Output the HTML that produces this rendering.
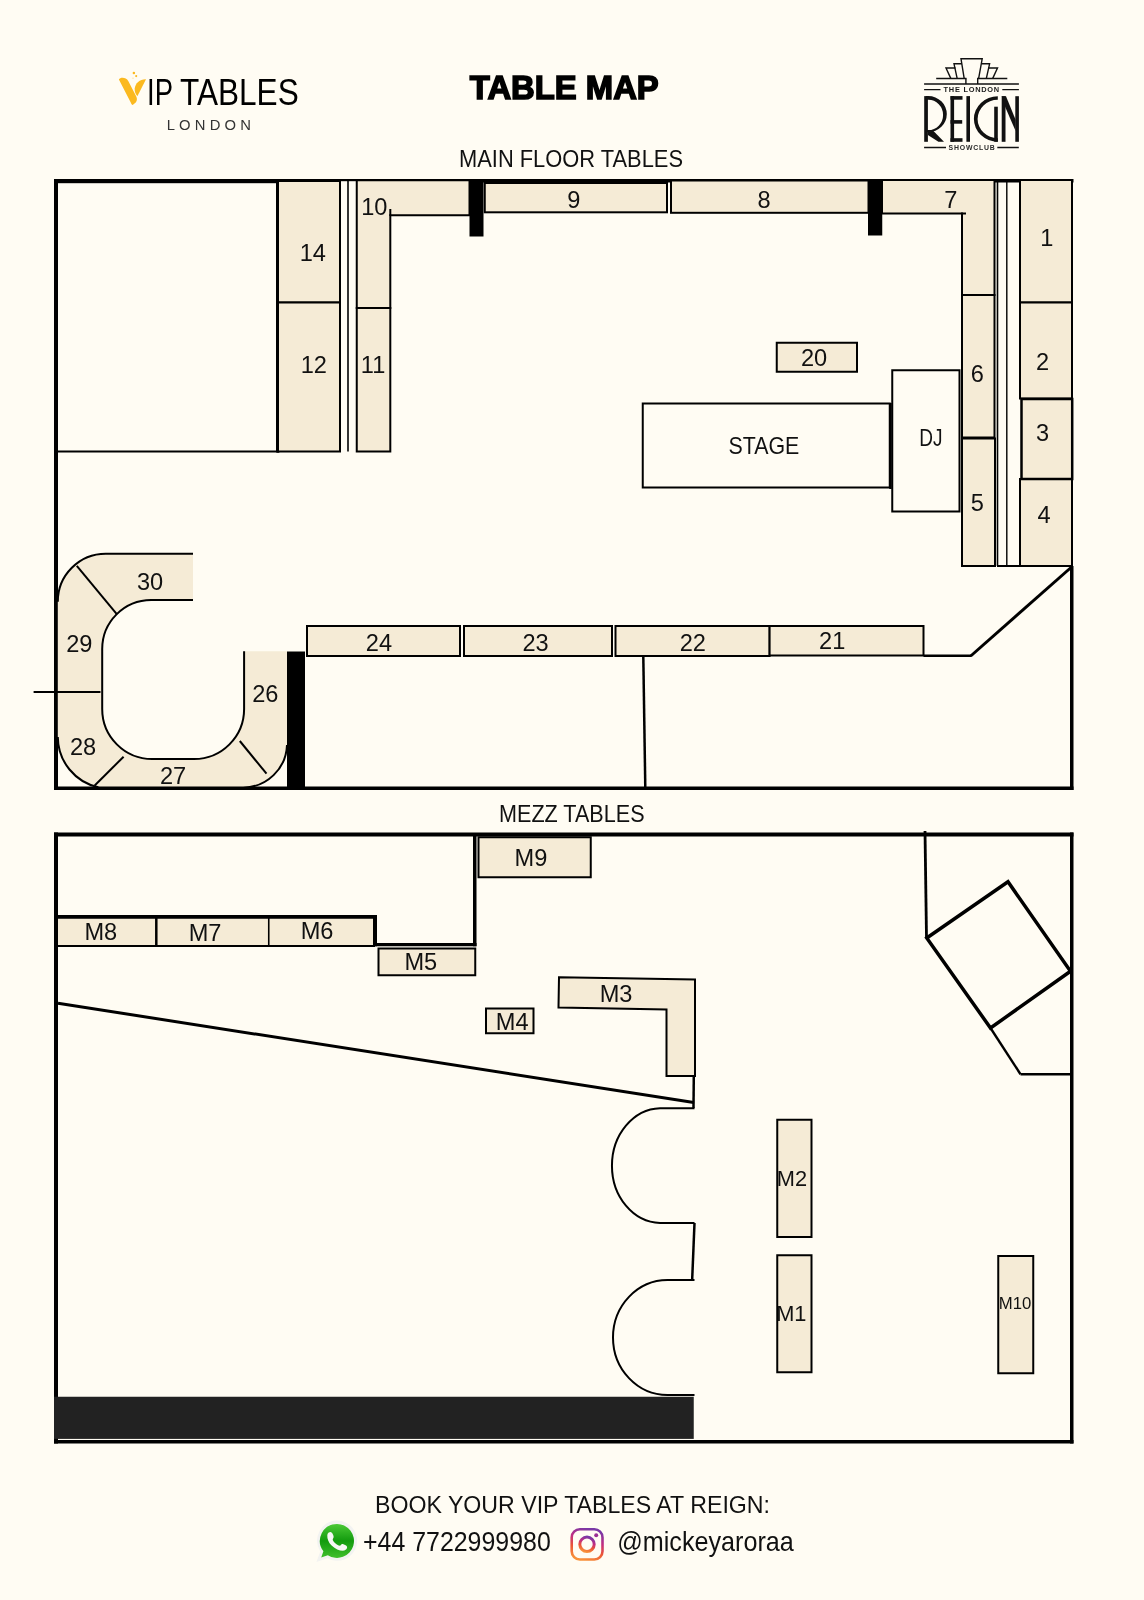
<!DOCTYPE html>
<html><head><meta charset="utf-8"><title>Table Map</title>
<style>
html,body{margin:0;padding:0;background:#FFFCF3;}
body{width:1144px;height:1600px;overflow:hidden;}
svg{display:block;font-family:"Liberation Sans",sans-serif;will-change:transform;}
</style></head><body>
<svg width="1144" height="1600" viewBox="0 0 1144 1600">
<rect x="0" y="0" width="1144" height="1600" fill="#FFFCF3"/>
<rect x="54" y="179" width="225.5" height="4.2" fill="#000"/>
<rect x="279" y="179" width="187" height="2.2" fill="#000"/>
<rect x="466" y="179" width="607.5" height="3.5" fill="#000"/>
<rect x="54" y="179" width="4" height="611" fill="#000"/>
<rect x="54" y="786.5" width="1019.5" height="3.5" fill="#000"/>
<rect x="1070" y="566" width="3.5" height="224" fill="#000"/>
<rect x="276" y="179" width="3.5" height="273.5" fill="#000"/>
<rect x="58" y="450.5" width="221" height="2.0" fill="#000"/>
<rect x="278" y="181" width="62" height="121.5" fill="#F5EBD6" stroke="#000" stroke-width="2"/>
<rect x="278" y="302.5" width="62" height="149.0" fill="#F5EBD6" stroke="#000" stroke-width="2"/>
<line x1="348" y1="181" x2="348" y2="451.5" stroke="#000" stroke-width="1.6" stroke-linecap="butt"/>
<polygon points="356.75,180.2 469.5,180.2 469.5,215.3 390.3,215.3 390.3,308 356.75,308" fill="#F5EBD6" stroke="#000" stroke-width="2" stroke-linejoin="miter"/>
<line x1="390.3" y1="209" x2="390.3" y2="216" stroke="#000" stroke-width="2" stroke-linecap="butt"/>
<rect x="356.75" y="308" width="33.55" height="143.5" fill="#F5EBD6" stroke="#000" stroke-width="2"/>
<rect x="484.75" y="183" width="182.25" height="29.3" fill="#F5EBD6" stroke="#000" stroke-width="2"/>
<rect x="671" y="180.5" width="197.5" height="32.3" fill="#F5EBD6" stroke="#000" stroke-width="2"/>
<polygon points="882,180 994.5,180 994.5,295 962,295 962,213.5 882,213.5" fill="#F5EBD6" stroke="#000" stroke-width="2" stroke-linejoin="miter"/>
<line x1="961" y1="213.5" x2="966" y2="213.5" stroke="#000" stroke-width="2" stroke-linecap="butt"/>
<rect x="469.5" y="180" width="14.0" height="56.5" fill="#000"/>
<rect x="868" y="179.5" width="14.25" height="56.0" fill="#000"/>
<rect x="962" y="295" width="32.5" height="142.5" fill="#F5EBD6" stroke="#000" stroke-width="2"/>
<rect x="962" y="438.5" width="33" height="127.5" fill="#F5EBD6" stroke="#000" stroke-width="2"/>
<line x1="997.5" y1="180" x2="997.5" y2="566" stroke="#000" stroke-width="1.6" stroke-linecap="butt"/>
<line x1="1006.8" y1="180" x2="1006.8" y2="566" stroke="#000" stroke-width="1.4" stroke-linecap="butt"/>
<line x1="997" y1="566" x2="1020" y2="566" stroke="#000" stroke-width="2" stroke-linecap="butt"/>
<rect x="1020" y="180" width="52" height="122.5" fill="#F5EBD6" stroke="#000" stroke-width="2"/>
<rect x="1020" y="302.5" width="52" height="96.0" fill="#F5EBD6" stroke="#000" stroke-width="2"/>
<rect x="1020" y="479" width="52" height="87" fill="#F5EBD6" stroke="#000" stroke-width="2"/>
<rect x="1021.5" y="399" width="50.7" height="80" fill="#F5EBD6" stroke="#000" stroke-width="2.5"/>
<line x1="1071" y1="567.5" x2="971" y2="655.75" stroke="#000" stroke-width="3" stroke-linecap="butt"/>
<line x1="971.8" y1="655.75" x2="923.5" y2="655.75" stroke="#000" stroke-width="2.5" stroke-linecap="butt"/>
<rect x="307" y="626" width="153" height="30" fill="#F5EBD6" stroke="#000" stroke-width="2"/>
<rect x="464" y="626" width="148" height="30" fill="#F5EBD6" stroke="#000" stroke-width="2"/>
<rect x="615.5" y="626" width="154.1" height="30" fill="#F5EBD6" stroke="#000" stroke-width="2"/>
<rect x="769.6" y="626" width="153.9" height="29.5" fill="#F5EBD6" stroke="#000" stroke-width="2"/>
<line x1="643.3" y1="656" x2="645.3" y2="788" stroke="#000" stroke-width="2.5" stroke-linecap="butt"/>
<rect x="642.75" y="403.5" width="247.0" height="84.0" fill="#FFFCF3" stroke="#000" stroke-width="2"/>
<rect x="892.25" y="370.25" width="67.25" height="141.25" fill="#FFFCF3" stroke="#000" stroke-width="2"/>
<line x1="890.5" y1="403" x2="890.5" y2="489" stroke="#000" stroke-width="2.5" stroke-linecap="butt"/>
<rect x="776.75" y="342.75" width="80.25" height="29.0" fill="#F5EBD6" stroke="#000" stroke-width="2"/>
<path d="M193,553.8 L105.7,553.8 A47.9,47.9 0 0 0 57.8,601.7 L57.8,737 A52,52 0 0 0 99,787.5 L243,787.5 A44,44 0 0 0 287,745 L287,651.2 L244.1,651.2 L244.1,709 A50,50 0 0 1 194.1,759 L152.2,759 A50,50 0 0 1 102.2,709 L102.2,649 A49,49 0 0 1 151.2,600 L193,600 Z" fill="#F5EBD6" stroke="none"/>
<path d="M193,553.8 L105.7,553.8 A47.9,47.9 0 0 0 57.8,601.7" fill="none" stroke="#000" stroke-width="2" />
<path d="M57.8,737 A52,52 0 0 0 99,787.5 L243,787.5 A44,44 0 0 0 287,745" fill="none" stroke="#000" stroke-width="2" />
<path d="M244.1,651.2 L244.1,709 A50,50 0 0 1 194.1,759 L152.2,759 A50,50 0 0 1 102.2,709 L102.2,649 A49,49 0 0 1 151.2,600 L193,600" fill="none" stroke="#000" stroke-width="2" />
<line x1="76.8" y1="565.9" x2="117" y2="614.3" stroke="#000" stroke-width="2" stroke-linecap="butt"/>
<line x1="33.6" y1="691.9" x2="100.5" y2="691.9" stroke="#000" stroke-width="2" stroke-linecap="butt"/>
<line x1="94.7" y1="785.5" x2="123.6" y2="756.7" stroke="#000" stroke-width="2" stroke-linecap="butt"/>
<line x1="239.8" y1="741" x2="266.5" y2="773.7" stroke="#000" stroke-width="2" stroke-linecap="butt"/>
<rect x="287" y="651.5" width="18" height="137.5" fill="#000"/>
<rect x="54" y="832.5" width="1019.5" height="4.0" fill="#000"/>
<rect x="54" y="832.5" width="4" height="611.0" fill="#000"/>
<rect x="1070" y="832.5" width="3.5" height="611.0" fill="#000"/>
<rect x="54" y="1440" width="1019.5" height="3.5" fill="#000"/>
<rect x="473" y="833" width="3.5" height="113.25" fill="#000"/>
<rect x="372.5" y="943" width="104.0" height="3.25" fill="#000"/>
<rect x="372.5" y="915.75" width="4.5" height="30.5" fill="#000"/>
<rect x="57" y="917" width="317" height="29" fill="#F5EBD6" stroke="#000" stroke-width="2"/>
<rect x="58" y="915" width="319" height="3.75" fill="#000"/>
<line x1="156.3" y1="917" x2="156.3" y2="946" stroke="#000" stroke-width="2.5" stroke-linecap="butt"/>
<line x1="268.75" y1="917" x2="268.75" y2="946" stroke="#000" stroke-width="1.6" stroke-linecap="butt"/>
<rect x="378.5" y="948.5" width="96.75" height="26.75" fill="#F5EBD6" stroke="#000" stroke-width="2"/>
<rect x="478.5" y="837.25" width="112.25" height="40.0" fill="#F5EBD6" stroke="#000" stroke-width="2"/>
<polygon points="559,977.2 695,979.5 695,1076 666.5,1076 666.5,1009.5 558.5,1007.5" fill="#F5EBD6" stroke="#000" stroke-width="2" stroke-linejoin="miter"/>
<rect x="486" y="1008.5" width="47.5" height="24.75" fill="#F5EBD6" stroke="#000" stroke-width="2"/>
<line x1="58" y1="1003.25" x2="693.75" y2="1102.5" stroke="#000" stroke-width="3" stroke-linecap="butt"/>
<line x1="693.8" y1="1076" x2="693.5" y2="1108" stroke="#000" stroke-width="2.5" stroke-linecap="butt"/>
<line x1="694.5" y1="1223" x2="692.2" y2="1279" stroke="#000" stroke-width="2.5" stroke-linecap="butt"/>
<path d="M694.5,1108.25 L660,1108.25 A49.5,57.4 0 0 0 660,1223 L694.5,1223" fill="none" stroke="#000" stroke-width="2" />
<path d="M694.5,1280 L667.5,1280 A54.5,57.5 0 0 0 667.5,1395 L694.5,1395" fill="none" stroke="#000" stroke-width="2" />
<rect x="54" y="1396.75" width="639.75" height="42.15" fill="#222"/>
<rect x="777.25" y="1119.75" width="34.25" height="117.25" fill="#F5EBD6" stroke="#000" stroke-width="2"/>
<rect x="777.25" y="1255.25" width="34.25" height="117.0" fill="#F5EBD6" stroke="#000" stroke-width="2"/>
<rect x="998.25" y="1256" width="35.0" height="117.25" fill="#F5EBD6" stroke="#000" stroke-width="2"/>
<line x1="925" y1="831" x2="926.5" y2="938" stroke="#000" stroke-width="2.8" stroke-linecap="butt"/>
<polygon points="926.75,938 1008,881.75 1070.5,971.25 990.5,1028" fill="none" stroke="#000" stroke-width="3.5" stroke-linejoin="miter"/>
<line x1="990.5" y1="1028" x2="1020.5" y2="1074.25" stroke="#000" stroke-width="2.4" stroke-linecap="butt"/>
<line x1="1020.5" y1="1074.2" x2="1070" y2="1074.2" stroke="#000" stroke-width="2.4" stroke-linecap="butt"/>
<text x="374.38" y="214.75" text-anchor="middle" font-size="23.6" font-weight="normal" fill="#111">10</text>
<text x="312.75" y="261" text-anchor="middle" font-size="23.6" font-weight="normal" fill="#111">14</text>
<text x="313.75" y="372.5" text-anchor="middle" font-size="23.6" font-weight="normal" fill="#111">12</text>
<text x="373.12" y="372.5" text-anchor="middle" font-size="23.6" font-weight="normal" fill="#111">11</text>
<text x="573.75" y="207.5" text-anchor="middle" font-size="23.6" font-weight="normal" fill="#111">9</text>
<text x="764.12" y="208" text-anchor="middle" font-size="23.6" font-weight="normal" fill="#111">8</text>
<text x="950.88" y="208" text-anchor="middle" font-size="23.6" font-weight="normal" fill="#111">7</text>
<text x="1046.75" y="245.75" text-anchor="middle" font-size="23.6" font-weight="normal" fill="#111">1</text>
<text x="1042.62" y="369.5" text-anchor="middle" font-size="23.6" font-weight="normal" fill="#111">2</text>
<text x="1042.62" y="441.25" text-anchor="middle" font-size="23.6" font-weight="normal" fill="#111">3</text>
<text x="1044.0" y="523.25" text-anchor="middle" font-size="23.6" font-weight="normal" fill="#111">4</text>
<text x="977.38" y="382" text-anchor="middle" font-size="23.6" font-weight="normal" fill="#111">6</text>
<text x="977.25" y="511.25" text-anchor="middle" font-size="23.6" font-weight="normal" fill="#111">5</text>
<text x="814.0" y="366.25" text-anchor="middle" font-size="23.6" font-weight="normal" fill="#111">20</text>
<text x="150.0" y="589.8" text-anchor="middle" font-size="23.6" font-weight="normal" fill="#111">30</text>
<text x="79.3" y="651.9" text-anchor="middle" font-size="23.6" font-weight="normal" fill="#111">29</text>
<text x="83.05" y="755.4" text-anchor="middle" font-size="23.6" font-weight="normal" fill="#111">28</text>
<text x="173.0" y="783.7" text-anchor="middle" font-size="23.6" font-weight="normal" fill="#111">27</text>
<text x="265.35" y="702.2" text-anchor="middle" font-size="23.6" font-weight="normal" fill="#111">26</text>
<text x="378.95" y="651" text-anchor="middle" font-size="23.6" font-weight="normal" fill="#111">24</text>
<text x="535.6" y="651" text-anchor="middle" font-size="23.6" font-weight="normal" fill="#111">23</text>
<text x="692.75" y="651" text-anchor="middle" font-size="23.6" font-weight="normal" fill="#111">22</text>
<text x="832.2" y="649" text-anchor="middle" font-size="23.6" font-weight="normal" fill="#111">21</text>
<text x="530.9" y="866.25" text-anchor="middle" font-size="23.6" font-weight="normal" fill="#111">M9</text>
<text x="100.78" y="940" text-anchor="middle" font-size="23.6" font-weight="normal" fill="#111">M8</text>
<text x="205.03" y="940.75" text-anchor="middle" font-size="23.6" font-weight="normal" fill="#111">M7</text>
<text x="317.02" y="938.75" text-anchor="middle" font-size="23.6" font-weight="normal" fill="#111">M6</text>
<text x="420.77" y="970" text-anchor="middle" font-size="23.6" font-weight="normal" fill="#111">M5</text>
<text x="512.15" y="1030" text-anchor="middle" font-size="23.6" font-weight="normal" fill="#111">M4</text>
<text x="616.02" y="1001.75" text-anchor="middle" font-size="23.6" font-weight="normal" fill="#111">M3</text>
<text x="792.0" y="1186.25" text-anchor="middle" font-size="21.8" font-weight="normal" fill="#111">M2</text>
<text x="791.33" y="1321.25" text-anchor="middle" font-size="21.8" font-weight="normal" fill="#111">M1</text>
<text x="998.8" y="1308.75" font-size="15.6" font-weight="normal" fill="#111" textLength="32.6" lengthAdjust="spacingAndGlyphs">M10</text>
<text x="919.2" y="446.25" font-size="23.6" font-weight="normal" fill="#111" textLength="23.25" lengthAdjust="spacingAndGlyphs">DJ</text>
<text x="728.5" y="454.25" font-size="23.6" font-weight="normal" fill="#111" textLength="70.8" lengthAdjust="spacingAndGlyphs">STAGE</text>
<text x="459" y="166.75" font-size="23.6" font-weight="normal" fill="#111" textLength="224.0" lengthAdjust="spacingAndGlyphs">MAIN FLOOR TABLES</text>
<text x="499.0" y="822" font-size="23.6" font-weight="normal" fill="#111" textLength="145.55" lengthAdjust="spacingAndGlyphs">MEZZ TABLES</text>
<text x="469.8" y="99.2" font-size="33.8" font-weight="bold" fill="#000" stroke="#000" stroke-width="1.6" textLength="188.95" lengthAdjust="spacingAndGlyphs">TABLE MAP</text>
<text x="375" y="1512.5" font-size="24.3" font-weight="normal" fill="#111" textLength="395" lengthAdjust="spacingAndGlyphs">BOOK YOUR VIP TABLES AT REIGN:</text>
<text x="363.0" y="1551.25" font-size="27.2" font-weight="normal" fill="#111" textLength="187.75" lengthAdjust="spacingAndGlyphs">+44 7722999980</text>
<text x="617.25" y="1551.25" font-size="27.8" font-weight="normal" fill="#111" textLength="176.5" lengthAdjust="spacingAndGlyphs">@mickeyaroraa</text>
<text x="147.1" y="104.9" font-size="36.5" font-weight="normal" fill="#000" textLength="25.9" lengthAdjust="spacingAndGlyphs">IP</text>
<text x="180.0" y="104.9" font-size="36.5" font-weight="normal" fill="#000" textLength="118.7" lengthAdjust="spacingAndGlyphs">TABLES</text>
<text x="166.7" y="129.7" font-size="14.8" font-weight="normal" fill="#333" textLength="84.2" lengthAdjust="spacing">LONDON</text>
<g fill="#FBB91F"><path d="M118.9,79.4 C120.2,77.2 126,76.9 128.4,81.2 L136.4,96.8 C137.3,98.8 137,101.2 135.7,102.6 L132.7,105 C131.9,104.7 131.3,103.9 131,102.9 Z"/><path d="M146,79.2 C140,79 135.2,83 134.7,88.6 C134.5,91.8 135.5,94.4 137.4,96.2 Z"/><circle cx="133.9" cy="73.1" r="1.25"/><circle cx="136.2" cy="76.1" r="1.05"/><circle cx="133" cy="78.2" r="0.6" opacity="0.5"/></g>
<g fill="none" stroke="#111" stroke-width="1.4" stroke-linejoin="miter"><path d="M964.2,78.6 L961,58.8 L982.2,58.8 L978.6,78.6"/><path d="M965.9,78.5 L965.9,84 M977.7,78.5 L977.7,84"/><path d="M957.2,78.6 L954,63.8 L961.8,63.8"/><path d="M950.9,78.6 L946,68 L955.5,68"/><path d="M986.3,78.6 L989.6,63.8 L981.6,63.8"/><path d="M992.6,78.6 L997.5,68 L988,68"/><path d="M936.2,78.5 L966.5,78.5 M977,78.5 L1007.3,78.5"/><path d="M924.1,84 L1018.9,84"/><path d="M924.1,89.6 L940.5,89.6 M1002.3,89.6 L1018.9,89.6"/><path d="M924.1,147.5 L946,147.5 M997.3,147.5 L1018.8,147.5"/></g>
<g fill="#111"><rect x="924.2" y="96.1" width="3.7" height="45.7"/><path d="M926,96.1 L928.3,96.1 A18.5,18 0 0 1 928.3,132.1 L926,132.1 L926,130.1 L928.3,130.1 A14.6,15 0 0 0 928.3,99.7 L926,99.7 Z"/><polygon points="927.9,131.6 933.2,130.8 944,141.8 938.4,141.8 927.9,135"/><rect x="950.5" y="96.1" width="3.6" height="45.7"/><rect x="950.5" y="96.1" width="12" height="3.6"/><rect x="950.5" y="120.1" width="11.7" height="3.6"/><rect x="950.5" y="138.2" width="12" height="3.6"/><rect x="966.4" y="96.1" width="3.6" height="45.7"/><path d="M997.8,96.2 A23.9,22.8 0 0 0 997.8,141.8 L997.8,138.2 A20.2,19.2 0 0 1 997.8,99.8 Z"/><rect x="994.2" y="106.7" width="3.6" height="35.1"/><rect x="1001.7" y="96.2" width="3.8" height="45.6"/><rect x="1015.3" y="96.2" width="3.6" height="45.6"/><polygon points="1001.7,96.2 1006,96.2 1015.6,119.8 1015.6,131 1005.2,106.9"/></g>
<text x="943.6" y="92.1" font-size="7.4" font-weight="bold" fill="#1a1a1a" textLength="55.6" lengthAdjust="spacing">THE LONDON</text>
<text x="948.6" y="150" font-size="6.9" font-weight="bold" fill="#2a2a2a" textLength="46.2" lengthAdjust="spacing">SHOWCLUB</text>
<defs><linearGradient id="wg" x1="0" y1="0" x2="0" y2="1"><stop offset="0" stop-color="#4BC936"/><stop offset="0.5" stop-color="#139B0E"/><stop offset="1" stop-color="#3FBF2C"/></linearGradient><linearGradient id="ig" x1="0.3" y1="1" x2="0.6" y2="0"><stop offset="0" stop-color="#F8913A"/><stop offset="0.35" stop-color="#EB5436"/><stop offset="0.65" stop-color="#C22E82"/><stop offset="1" stop-color="#7A38A6"/></linearGradient></defs>
<path d="M337.1,1520.6 A20.1,20.1 0 1 1 327.3,1558.3 L316.4,1561.9 L320.3,1551.4 A20.1,20.1 0 0 1 337.1,1520.6 Z" fill="#F3F3F1"/>
<path d="M336.9,1523.9 A17,17 0 1 1 327.8,1555.2 L321.2,1557.5 L323.4,1551.2 A17,17 0 0 1 336.9,1523.9 Z" fill="url(#wg)"/>
<path d="M327.3,1535.2 C327.6,1533 328.8,1532 330.8,1532 C331.8,1532.4 332.6,1533.6 333.2,1535 C333.7,1536.2 333.9,1537.4 333.2,1538.2 C332.8,1538.8 332.6,1539.5 333,1540.6 C334,1542.6 336.2,1544.5 338.6,1545.6 C339.6,1546 340.6,1545.6 341.4,1544.4 C341.8,1543.9 342.6,1543.9 343.4,1544.2 L345.6,1545.3 C346.8,1545.9 347.4,1546.8 347,1548 C346.6,1549.4 345.2,1550.6 342.6,1550.8 C339.5,1550.8 335.2,1549.2 331.6,1545.6 C328.5,1542.6 327.1,1538.6 327.3,1535.2 Z" fill="#F7F7F5"/>
<g fill="none" stroke="url(#ig)"><rect x="571.7" y="1529.3" width="30.8" height="30.2" rx="8.2" stroke-width="2.6"/><circle cx="587" cy="1544.3" r="7.2" stroke-width="3"/></g>
<circle cx="596.2" cy="1535.3" r="2" fill="#9A2F95"/>
</svg>
</body></html>
